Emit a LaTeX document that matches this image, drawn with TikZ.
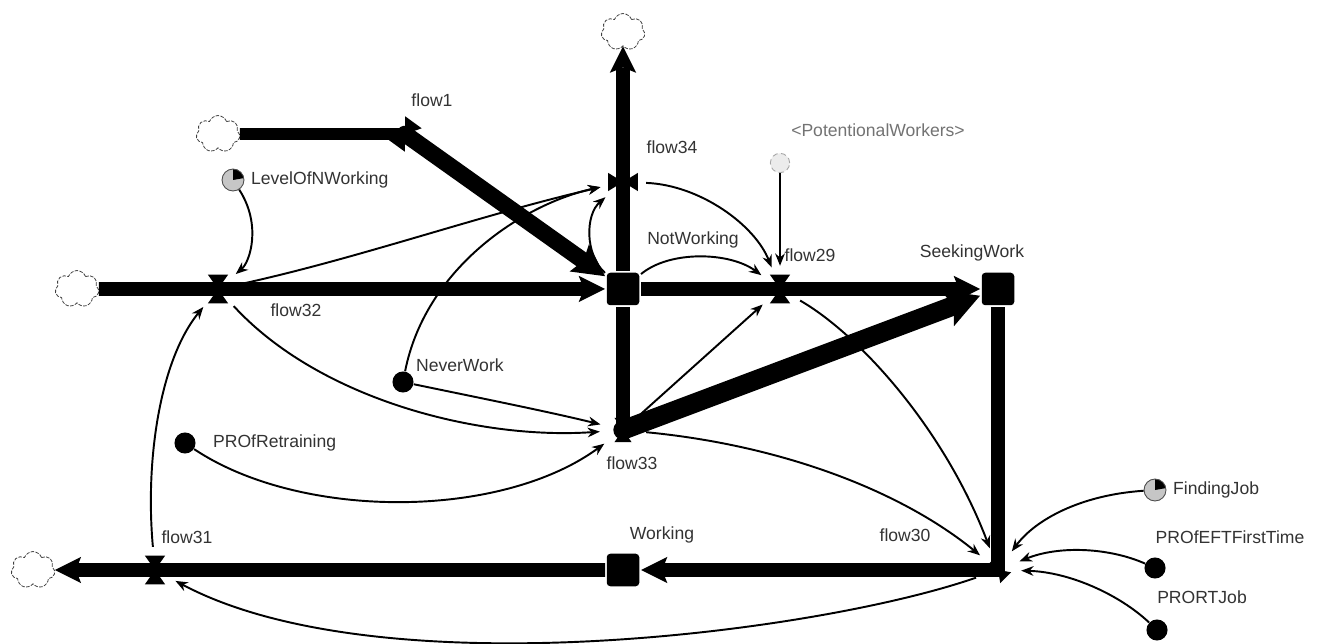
\documentclass[tikz,border=0pt]{standalone}
\usepackage{fontspec}
\setmainfont{Liberation Sans}
\usetikzlibrary{arrows.meta,shapes.symbols}
\tikzset{
  stock/.style={rectangle, fill=black, rounded corners=2pt, minimum width=18.5pt, minimum height=18.5pt, inner sep=0pt, outer sep=1pt},
  valve/.style={circle, minimum size=26pt, inner sep=0pt},
  aux/.style={circle, fill=black, minimum size=12pt, inner sep=0pt},
  lookaux/.style={circle, fill=gray!45, draw=black!70, line width=0.5pt, minimum size=12.5pt, inner sep=0pt,
     path picture={\fill[black] (path picture bounding box.center) -- ++(0,6.5pt) arc[start angle=90,end angle=10,radius=6.5pt] -- cycle;}},
  ghost/.style={circle, fill=gray!15, draw=gray!70, densely dashed, line width=0.5pt, minimum size=11pt, inner sep=0pt},
  src/.style={cloud, cloud puffs=7, cloud puff arc=140, draw=black!75, fill=white, line width=0.45pt, dash pattern=on 2pt off 0.8pt, minimum width=25pt, minimum height=21pt, inner sep=0pt, aspect=1.2},
  pipe/.style={line width=7.8pt},
  fathead/.style={-{Stealth[length=15pt,width=15pt,inset=3pt,line width=0pt]}},
  conn/.style={line width=1.1pt, -{Stealth[length=7pt,width=5.5pt]}},
  lbl/.style={font=\fontsize{10}{12}\selectfont, text=black!80, inner sep=1pt},
  pics/hg/.style={code={\fill (-5.8pt,8.2pt) -- (5.8pt,8.2pt) -- (-5.8pt,-8.2pt) -- (5.8pt,-8.2pt) -- cycle;}},
  pics/bt/.style={code={\fill (-8.5pt,5.2pt) -- (-8.5pt,-5.2pt) -- (8.5pt,5.2pt) -- (8.5pt,-5.2pt) -- cycle;}},
}
\begin{document}
\begin{tikzpicture}[x=0.02cm,y=-0.02cm]
\useasboundingbox (0,0) rectangle (1327,644);
\fill[white] (0,0) rectangle (1327,644);

% sources / sinks
\node[src] (cA) at (218,134) {};
\node[src] (cT) at (623,32) {};
\node[src] (cL) at (77,289) {};
\node[src] (cBL) at (33,570) {};

% stocks
\node[stock] (NW) at (623,289) {};
\node[stock] (SW) at (998,289) {};
\node[stock] (W) at (623,570) {};

% valves (connection zones)
\node[valve] (f1) at (405,134) {};
\node[valve] (f34) at (623,182) {};
\node[valve] (f32) at (218,289) {};
\node[valve] (f29) at (780,289) {};
\node[valve] (f33) at (623,430) {};
\node[valve] (f30) at (998,570) {};
\node[valve] (f31) at (155,570) {};

% auxiliaries
\node[lookaux] (LON) at (233,180) {};
\node[ghost] (PW) at (780,163) {};
\node[aux] (NeW) at (403,382) {};
\node[aux] (PR) at (185,443) {};
\node[lookaux] (FJ) at (1155,490) {};
\node[aux] (EFT) at (1155,568) {};
\node[aux] (RT) at (1157,630) {};

% pipes
\draw[pipe, line width=6.8pt] (cA) -- (f1.center);
\draw[pipe, line width=9.5pt, line cap=round, -{Stealth[length=18pt,width=19pt,inset=3pt,line width=0pt]}] (f1.center) -- (NW);
\draw[pipe, fathead] (NW) -- (cT);
\draw[pipe, fathead] (cL) -- (NW);
\draw[pipe, fathead] (NW) -- (SW);
\draw[pipe] (NW) -- (f33.center);
\draw[pipe, line width=11pt, line cap=round, -{Stealth[length=20pt,width=22pt,inset=4pt,line width=0pt]}] (f33.center) -- (SW);
\draw[pipe, fathead] (SW) |- (W);
\draw[pipe, fathead] (W) -- (cBL);

% valve glyphs
\pic[rotate=-36] at (f1) {hg};
\pic at (f34) {bt};
\pic at (f32) {hg};
\pic at (f29) {hg};
\pic[scale=0.85] at (f33) {hg};
\pic[rotate=45, scale=0.75] at (f30) {hg};
\pic at (f31) {hg};

% connectors
\draw[conn] (LON) .. controls (262,225) and (250,262) .. (f32);
\draw[conn] (f32) .. controls (360,258) and (480,215) .. (f34);
\draw[conn] (NW) .. controls (585,255) and (585,215) .. (f34);
\draw[conn] (NeW) .. controls (425,270) and (520,205) .. (f34);
\draw[conn] (f34) .. controls (700,185) and (755,225) .. (f29);
\draw[conn] (NW) .. controls (670,250) and (730,252) .. (f29);
\draw[conn] (PW) -- (f29);
\draw[conn] (f33) -- (f29);
\draw[conn] (f29) .. controls (860,335) and (945,430) .. (f30);
\draw[conn] (f33) .. controls (780,445) and (900,490) .. (f30);
\draw[conn] (f32) .. controls (320,400) and (480,440) .. (f33);
\draw[conn] (NeW) .. controls (480,398) and (550,412) .. (f33);
\draw[conn] (PR) .. controls (300,520) and (500,520) .. (f33);
\draw[conn] (f30) .. controls (820,632) and (380,690) .. (f31);
\draw[conn] (f31) .. controls (145,460) and (160,360) .. (f32);
\draw[conn] (FJ) .. controls (1080,495) and (1035,520) .. (f30);
\draw[conn] (EFT) .. controls (1110,548) and (1060,545) .. (f30);
\draw[conn] (RT) .. controls (1120,595) and (1070,572) .. (f30);

% labels
\node[lbl] (t1) at (432,100) {flow1};
\node[lbl, anchor=west] (tLON) at (249,180) {LevelOfNWorking};
\node[lbl] (t34) at (672,147) {flow34};
\node[lbl, text=black!55] (tPW) at (878,130) {<PotentionalWorkers>};
\node[lbl] (tNW) at (693,240) {NotWorking};
\node[lbl] (t29) at (810,255) {flow29};
\node[lbl] (tSW) at (972,253) {SeekingWork};
\node[lbl] (t32) at (296,310) {flow32};
\node[lbl, anchor=west] (tNeW) at (414,365) {NeverWork};
\node[lbl, anchor=west] (tPR) at (211,443) {PROfRetraining};
\node[lbl] (t33) at (632,463) {flow33};
\node[lbl, anchor=west] (tFJ) at (1171,490) {FindingJob};
\node[lbl] (tEFT) at (1230,537) {PROfEFTFirstTime};
\node[lbl] (tRT) at (1202,597) {PRORTJob};
\node[lbl] (t31) at (187,537) {flow31};
\node[lbl] (tW) at (662,535) {Working};
\node[lbl] (t30) at (905,535) {flow30};
\end{tikzpicture}
\end{document}
